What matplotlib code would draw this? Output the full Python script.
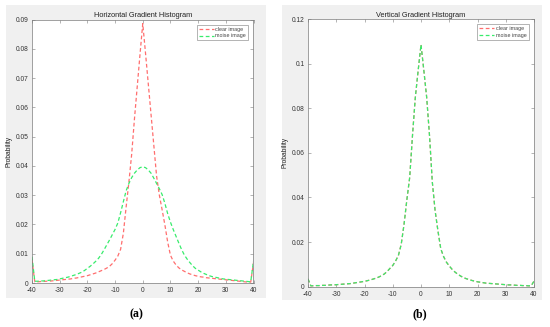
import numpy as np
import matplotlib
matplotlib.use('Agg')
import matplotlib.pyplot as plt
from matplotlib.patches import Rectangle
from matplotlib.ticker import FuncFormatter

plt.rcParams['font.family'] = ['Liberation Sans', 'DejaVu Sans']
plt.rcParams['axes.unicode_minus'] = False

# gradient values (bins -40..40)
grad = list(range(-40, 41))

# (a) horizontal gradient
h_clear = [0.0080, 0.0004, 0.0004, 0.0005, 0.0005, 0.0006, 0.0006, 0.0007, 0.0008, 0.0009,
           0.0010, 0.0011, 0.0012, 0.0013, 0.0014, 0.0016, 0.0017, 0.0019, 0.0021, 0.0023,
           0.0025, 0.0028, 0.0031, 0.0034, 0.0038, 0.0042, 0.0046, 0.0051, 0.0057, 0.0066,
           0.0078, 0.0092, 0.0115, 0.0170, 0.0260, 0.0345, 0.0440, 0.0560, 0.0670, 0.0780,
           0.0886,
           0.0785, 0.0680, 0.0575, 0.0470, 0.0365, 0.0300, 0.0250, 0.0198, 0.0140, 0.0095,
           0.0075, 0.0062, 0.0052, 0.0045, 0.0040, 0.0035, 0.0031, 0.0028, 0.0025, 0.0023,
           0.0021, 0.0020, 0.0018, 0.0017, 0.0016, 0.0015, 0.0014, 0.0013, 0.0012, 0.0011,
           0.0010, 0.0009, 0.0008, 0.0007, 0.0006, 0.0005, 0.0004, 0.0003, 0.0003, 0.0070]
h_noise = [0.0090, 0.0006, 0.0006, 0.0007, 0.0007, 0.0008, 0.0009, 0.0010, 0.0011, 0.0012,
           0.0014, 0.0016, 0.0018, 0.0020, 0.0023, 0.0026, 0.0029, 0.0033, 0.0037, 0.0043,
           0.0050, 0.0057, 0.0065, 0.0074, 0.0084, 0.0097, 0.0113, 0.0130, 0.0147, 0.0165,
           0.0183, 0.0205, 0.0240, 0.0278, 0.0315, 0.0340, 0.0360, 0.0375, 0.0386, 0.0394,
           0.0397,
           0.0394, 0.0386, 0.0375, 0.0358, 0.0340, 0.0322, 0.0302, 0.0272, 0.0237, 0.0208,
           0.0183, 0.0160, 0.0137, 0.0115, 0.0096, 0.0082, 0.0070, 0.0059, 0.0050, 0.0044,
           0.0038, 0.0033, 0.0029, 0.0025, 0.0022, 0.0020, 0.0018, 0.0016, 0.0014, 0.0013,
           0.0012, 0.0011, 0.0010, 0.0009, 0.0008, 0.0007, 0.0006, 0.0005, 0.0004, 0.0075]

# (b) vertical gradient - clear and noise curves coincide
v_clear = [0.0035, 0.0004, 0.0004, 0.0005, 0.0005, 0.0006, 0.0006, 0.0007, 0.0008, 0.0008,
           0.0009, 0.0010, 0.0011, 0.0012, 0.0013, 0.0014, 0.0016, 0.0018, 0.0020, 0.0022,
           0.0024, 0.0027, 0.0030, 0.0034, 0.0038, 0.0043, 0.0049, 0.0057, 0.0068, 0.0082,
           0.0095, 0.0115, 0.0140, 0.0190, 0.0280, 0.0390, 0.0490, 0.0680, 0.0850, 0.0970,
           0.1085,
           0.0970, 0.0850, 0.0680, 0.0470, 0.0340, 0.0250, 0.0170, 0.0135, 0.0110, 0.0093,
           0.0078, 0.0066, 0.0056, 0.0048, 0.0041, 0.0036, 0.0032, 0.0028, 0.0025, 0.0022,
           0.0020, 0.0018, 0.0016, 0.0015, 0.0014, 0.0013, 0.0012, 0.0011, 0.0010, 0.0009,
           0.0008, 0.0008, 0.0007, 0.0006, 0.0006, 0.0005, 0.0005, 0.0004, 0.0004, 0.0025]
v_noise = list(v_clear)

red = '#ff6e6e'
green = '#38ec6c'
edge = '#7a7a7a'

fig = plt.figure(figsize=(5.5, 3.27), dpi=100)
W, H = 550, 327


def px_rect(x0, y0, x1, y1):
    return [x0 / W, 1 - y1 / H, (x1 - x0) / W, (y1 - y0) / H]


# grey MATLAB figure backgrounds
for x0, y0, x1, y1 in [(6, 5, 266, 298), (282, 5, 542, 300)]:
    l, b, w, h = px_rect(x0, y0, x1, y1)
    fig.patches.append(Rectangle((l, b), w, h, transform=fig.transFigure,
                                 facecolor='#f0f0f0', edgecolor='none', zorder=-5))

fmt = FuncFormatter(lambda v, p: '%g' % round(v, 4))


def style(ax, yticks, title):
    ax.set_xlim(-40, 40)
    ax.set_xticks(range(-40, 41, 10))
    ax.set_yticks(yticks)
    ax.yaxis.set_major_formatter(fmt)
    ax.tick_params(direction='in', length=2, width=0.4, colors=edge,
                   labelsize=4.8, labelcolor='#333333', top=True, right=True, pad=2)
    ax.tick_params(axis='x', pad=3)
    ax.tick_params(axis='y', pad=2.5)
    for s in ax.spines.values():
        s.set_color(edge)
        s.set_linewidth(0.5)
    ax.set_title(title, fontsize=5.3, pad=1.5, color='#222222')
    ax.set_ylabel('Probability', fontsize=4.8, labelpad=2, color='#222222')
    leg = ax.legend(loc='upper right', fontsize=3.9, frameon=True, fancybox=False,
                    handlelength=2.8, handletextpad=0.3, borderpad=0.35,
                    labelspacing=0.3, borderaxespad=1.0)
    leg.get_frame().set_edgecolor(edge)
    leg.get_frame().set_linewidth(0.5)
    for t in leg.get_texts():
        t.set_color('#444444')


ax1 = fig.add_axes(px_rect(32, 19.5, 253.5, 283))
ax1.plot(grad, h_clear, '--', color=red, lw=0.9, dashes=(3, 2), label='clear image')
ax1.plot(grad, h_noise, '--', color=green, lw=0.9, dashes=(3, 2), label='moise image')
ax1.set_ylim(0, 0.09)
style(ax1, np.arange(0, 0.0901, 0.01), 'Horizontal Gradient Histogram')

ax2 = fig.add_axes(px_rect(308, 19, 534, 286.7))
ax2.plot(grad, v_clear, '--', color=red, lw=0.9, dashes=(3, 2), label='clear image')
ax2.plot(grad, v_noise, '--', color=green, lw=0.9, dashes=(3, 2), label='moise image')
ax2.set_ylim(0, 0.12)
style(ax2, np.arange(0, 0.1201, 0.02), 'Vertical Gradient Histogram')

fig.text(136 / W, 1 - 314 / H, '(a)', fontsize=8.5, fontweight='bold',
         family='Liberation Serif', ha='center', va='center')
fig.text(420 / W, 1 - 314 / H, '(b)', fontsize=8.5, fontweight='bold',
         family='Liberation Serif', ha='center', va='center')

fig.savefig('out.png', dpi=100)
